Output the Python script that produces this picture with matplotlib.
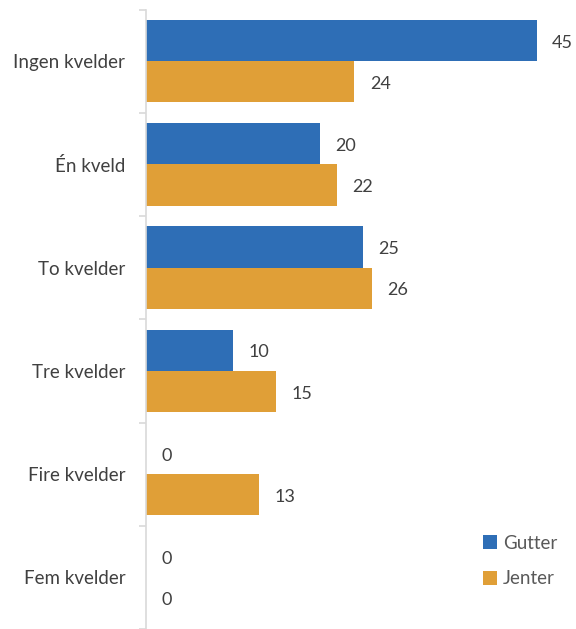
import matplotlib.pyplot as plt
import numpy as np

plt.rcParams['font.family'] = ['Lato', 'DejaVu Sans']

categories = ['Ingen kvelder', 'Én kveld', 'To kvelder', 'Tre kvelder', 'Fire kvelder', 'Fem kvelder']
gutter = [45, 20, 25, 10, 0, 0]
jenter = [24, 22, 26, 15, 13, 0]

blue = '#2E6EB6'
orange = '#E09F37'
text_col = '#404040'

fig = plt.figure(figsize=(5.76, 6.29), dpi=100)
ax = fig.add_axes([146 / 576, 0.0, 1 - 146 / 576, 1 - 9.5 / 629])

y = np.arange(len(categories))
h = 0.4
ax.barh(y - h / 2, gutter, height=h, color=blue, label='Gutter')
ax.barh(y + h / 2, jenter, height=h, color=orange, label='Jenter')

# value labels next to the bars
for i in range(len(categories)):
    ax.annotate(str(gutter[i]), (gutter[i], y[i] - h / 2), xytext=(11, -1.5),
                textcoords='offset points', va='center', ha='left',
                fontsize=13, color=text_col)
    ax.annotate(str(jenter[i]), (jenter[i], y[i] + h / 2), xytext=(11, -1.5),
                textcoords='offset points', va='center', ha='left',
                fontsize=13, color=text_col)

ax.set_xlim(0, 49.5)
ax.set_ylim(len(categories) - 0.5, -0.5)
ax.set_yticks(y)
ax.set_yticklabels(categories, fontsize=13.5, color=text_col)
ax.set_yticks(np.arange(-0.5, len(categories), 1), minor=True)
ax.tick_params(axis='y', which='major', length=0, pad=15)
ax.tick_params(axis='y', which='minor', length=5, color='#D9D9D9', width=1.2)
ax.set_xticks([])

for s in ['top', 'right', 'bottom']:
    ax.spines[s].set_visible(False)
ax.spines['left'].set_color('#D9D9D9')
ax.spines['left'].set_linewidth(1.2)

leg = ax.legend(loc='lower right', bbox_to_anchor=(0.995, 0.04), frameon=False,
                fontsize=13.5, handlelength=0.75, handleheight=0.75,
                handletextpad=0.3, labelspacing=1.0)
for t in leg.get_texts():
    t.set_color('#595959')

fig.savefig('out.png', dpi=100)
